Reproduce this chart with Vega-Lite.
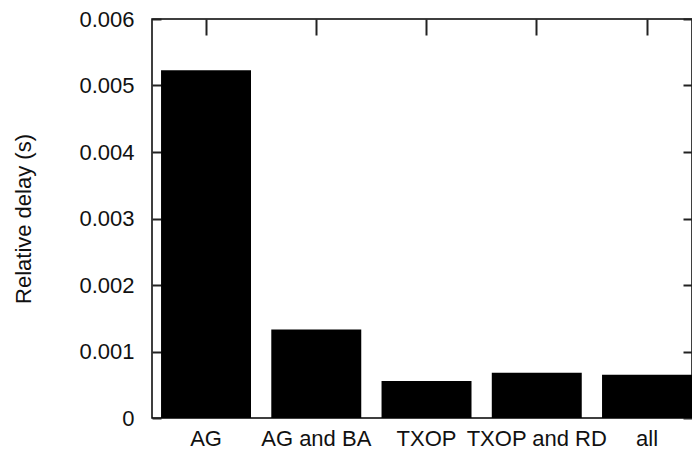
{
  "$schema": "https://vega.github.io/schema/vega-lite/v6.json",
  "width": 540,
  "height": 399,
  "autosize": {"type": "none"},
  "padding": {"left": 152, "top": 19, "right": 0, "bottom": 37},
  "background": "white",
  "config": {
    "view": {"stroke": "#000", "strokeWidth": 1.5},
    "axis": {
      "domain": false,
      "grid": false,
      "labelFont": "Liberation Sans",
      "labelFontSize": 22,
      "labelColor": "#111",
      "titleFont": "Liberation Sans",
      "titleFontSize": 22,
      "titleFontWeight": "normal",
      "titleColor": "#111",
      "tickColor": "#222",
      "tickWidth": 2
    }
  },
  "data": {
    "values": [
      {"config": "AG", "delay": 0.00523},
      {"config": "AG and BA", "delay": 0.00133},
      {"config": "TXOP", "delay": 0.000556},
      {"config": "TXOP and RD", "delay": 0.00068},
      {"config": "all", "delay": 0.00065}
    ]
  },
  "layer": [
    {
      "mark": {"type": "bar", "color": "#000"},
      "encoding": {
        "x": {
          "field": "config",
          "type": "nominal",
          "sort": null,
          "scale": {"paddingInner": 0.184, "paddingOuter": 0.041, "align": 1},
          "axis": {"orient": "bottom", "title": null, "labelAngle": 0, "ticks": false, "labelPadding": 10}
        },
        "y": {
          "field": "delay",
          "type": "quantitative",
          "scale": {"domain": [0, 0.006], "nice": false},
          "axis": {
            "orient": "left",
            "title": "Relative delay (s)",
            "values": [0, 0.001, 0.002, 0.003, 0.004, 0.005, 0.006],
            "format": ".3~f",
            "ticks": true,
            "tickSize": 9,
            "offset": -9,
            "labelPadding": 18,
            "titlePadding": 43
          }
        }
      }
    },
    {
      "mark": {"type": "bar", "opacity": 0},
      "encoding": {
        "x": {
          "field": "config",
          "type": "nominal",
          "sort": null,
          "axis": {"orient": "top", "title": null, "labels": false, "ticks": true, "tickSize": 16, "offset": -16}
        },
        "y": {
          "field": "delay",
          "type": "quantitative",
          "axis": {
            "orient": "right",
            "title": null,
            "labels": false,
            "ticks": true,
            "values": [0, 0.001, 0.002, 0.003, 0.004, 0.005, 0.006],
            "tickSize": -9
          }
        }
      }
    }
  ],
  "resolve": {"axis": {"x": "independent", "y": "independent"}}
}
